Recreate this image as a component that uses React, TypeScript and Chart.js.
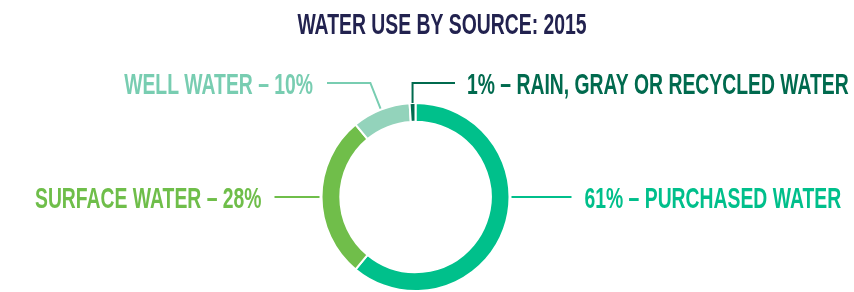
import React, { useEffect, useRef } from "react";
import { Chart, registerables } from "chart.js";

Chart.register(...registerables);

const titleText = "WATER USE BY SOURCE: 2015";
const categories = ["PURCHASED WATER", "SURFACE WATER", "WELL WATER", "RAIN, GRAY OR RECYCLED WATER"];
const values = [61, 28, 10, 1];
const segmentColors = ["#00c08b", "#70be4a", "#93d3bb", "#006b4f"];
const labelColors = ["#00bf8b", "#6fbe4a", "#78cdb1", "#006a4e"];
// label placement: side of the chart, leader type
const labelSides = ["right", "left", "left", "right"];
const leaderModes = ["horizontal", "horizontal", "elbow", "vertical"];

const FONT_FAMILY = '"Liberation Sans", Arial, sans-serif';

function drawText(ctx: CanvasRenderingContext2D, text: string, x: number, baseline: number, align: CanvasTextAlign, color: string, size: number, sx: number) {
  ctx.save();
  ctx.font = `bold ${size}px ${FONT_FAMILY}`;
  ctx.fillStyle = color;
  ctx.textAlign = align;
  ctx.textBaseline = "alphabetic";
  ctx.translate(x, baseline);
  ctx.scale(sx, 1);
  ctx.fillText(text, 0, 0);
  ctx.restore();
}

const labelPlugin = {
  id: "labelPlugin",
  afterDraw(chart: any) {
    const ctx: CanvasRenderingContext2D = chart.ctx;
    const meta = chart.getDatasetMeta(0);
    const size = 30;
    const capHalf = size * 0.716 / 2;
    let cx = 0, cy = 0;
    meta.data.forEach((arc: any, i: number) => {
      const p = arc.getProps(["x", "y", "startAngle", "endAngle", "outerRadius"], true);
      cx = p.x; cy = p.y;
      const R = p.outerRadius;
      const mid = (p.startAngle + p.endAngle) / 2;
      const color = labelColors[i];
      const side = labelSides[i];
      const mode = leaderModes[i];
      const text = side === "right" ? `${values[i]}% – ${categories[i]}` : `${categories[i]} – ${values[i]}%`;
      ctx.save();
      ctx.strokeStyle = color;
      ctx.lineWidth = 2;
      ctx.beginPath();
      let textX = 0, lineY = 0;
      if (mode === "horizontal") {
        const dir = side === "right" ? 1 : -1;
        lineY = cy;
        const x0 = cx + dir * (R + 2);
        const x1 = cx + dir * (side === "right" ? R + 62 : R + 47);
        ctx.moveTo(x0, lineY);
        ctx.lineTo(x1, lineY);
        textX = x1 + dir * 13;
      } else if (mode === "elbow") {
        lineY = cy - 114;
        const sx = cx + Math.cos(mid) * (R + 1);
        const sy = cy + Math.sin(mid) * (R + 1);
        const t = (lineY - cy) / Math.sin(mid);
        const ex = cx + Math.cos(mid) * t;
        const x1 = cx - 88.5;
        ctx.moveTo(sx, sy);
        ctx.lineTo(ex, lineY);
        ctx.lineTo(x1, lineY);
        textX = x1 - 14;
      } else {
        lineY = cy - 114;
        const sx = cx + Math.cos(mid) * R;
        const sy = cy + Math.sin(mid) * R;
        const x1 = cx + 39.5;
        ctx.moveTo(sx, sy);
        ctx.lineTo(sx, lineY);
        ctx.lineTo(x1, lineY);
        textX = x1 + 12;
      }
      ctx.stroke();
      ctx.restore();
      drawText(ctx, text, textX, lineY + capHalf, side === "right" ? "left" : "right", color, size, 0.645);
    });
    drawText(ctx, titleText, cx + 26.5, 34, "center", "#22224f", 29, 0.668);
  },
};

export default function App() {
  const ref = useRef<HTMLCanvasElement>(null);
  useEffect(() => {
    document.body.style.margin = "0";
    const chart = new Chart(ref.current!, {
      type: "doughnut",
      data: {
        labels: categories,
        datasets: [
          {
            data: values,
            backgroundColor: segmentColors,
            borderColor: "#ffffff",
            borderWidth: 2,
          },
        ],
      },
      options: {
        animation: false,
        responsive: false,
        cutout: "80%",
        rotation: 0,
        layout: { padding: { top: 102, bottom: -2, left: 0, right: 23 } },
        plugins: { legend: { display: false }, tooltip: { enabled: false }, title: { display: false } },
      },
      plugins: [labelPlugin],
    });
    return () => chart.destroy();
  }, []);
  return <canvas ref={ref} width={854} height={292} style={{ display: "block" }} />;
}
